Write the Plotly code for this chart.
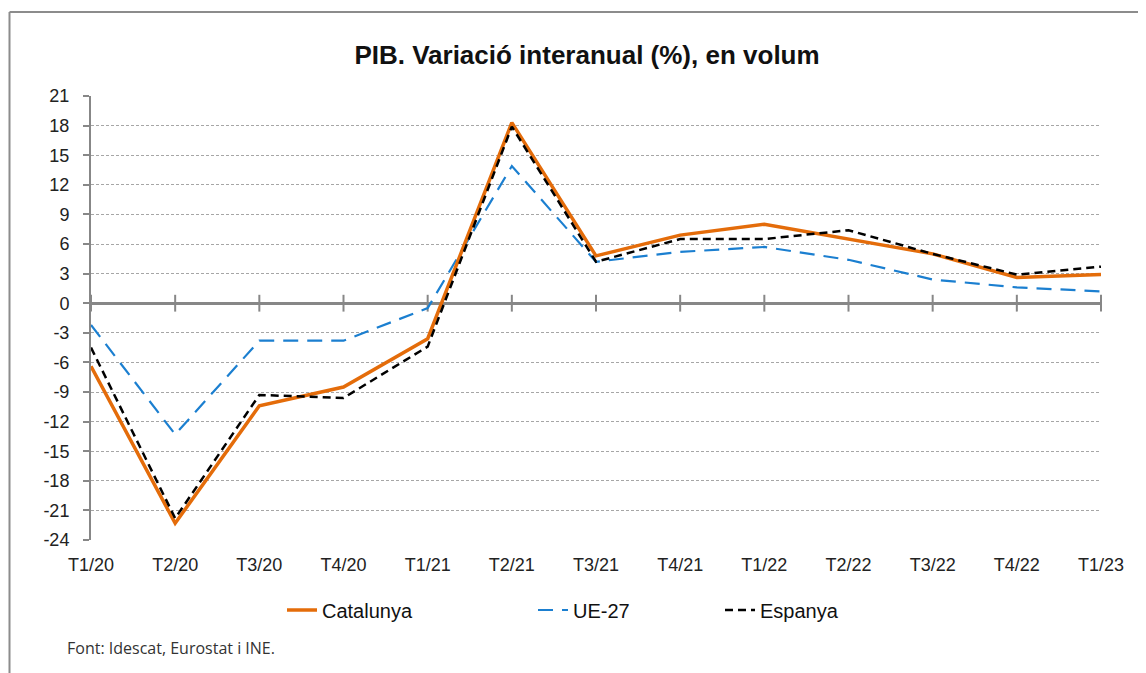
import plotly.graph_objects as go

quarters = ["T1/20", "T2/20", "T3/20", "T4/20", "T1/21", "T2/21", "T3/21",
            "T4/21", "T1/22", "T2/22", "T3/22", "T4/22", "T1/23"]
catalunya = [-6.4, -22.3, -10.4, -8.5, -3.6, 18.3, 4.8, 6.9, 8.0, 6.5, 5.0, 2.6, 2.9]
ue27 = [-2.2, -13.3, -3.8, -3.8, -0.5, 13.9, 4.2, 5.2, 5.7, 4.4, 2.4, 1.6, 1.2]
espanya = [-4.5, -21.8, -9.3, -9.6, -4.4, 17.9, 4.2, 6.5, 6.5, 7.4, 5.0, 2.9, 3.7]
yticks = list(range(-24, 22, 3))
ytick_text = [str(v) for v in yticks]

title_text = "PIB. Variació interanual (%), en volum"
source_text = "Font: Idescat, Eurostat i INE."

AXIS = "#878787"
FONT = "Liberation Sans, Arial, sans-serif"

fig = go.Figure()

# category tick marks crossing the zero axis
fig.add_trace(go.Scatter(
    x=quarters, y=[0] * len(quarters), mode="markers",
    marker=dict(symbol="line-ns", size=12, line=dict(width=2, color=AXIS)),
    showlegend=False, hoverinfo="skip", cliponaxis=False))

fig.add_trace(go.Scatter(
    x=quarters, y=ue27, name="UE-27", mode="lines",
    line=dict(color="#1B7FD0", width=2.2, dash="15px,9px"),
    legend="legend2"))
fig.add_trace(go.Scatter(
    x=quarters, y=catalunya, name="Catalunya", mode="lines",
    line=dict(color="#E46C0A", width=3.5),
    legend="legend"))
fig.add_trace(go.Scatter(
    x=quarters, y=espanya, name="Espanya", mode="lines",
    line=dict(color="#000000", width=2.5, dash="8px,5px"),
    legend="legend3"))

OFF = 8  # page body offset
W, H = 1146, 673
L, R, T, B = 83, 53, 88, 141
pw, ph = W - L - R, H - T - B

def px_x(p):
    return (p - OFF - L) / pw

def px_y(p):
    return (H - B - (p - OFF)) / ph

legend_common = dict(orientation="h", yanchor="middle", xanchor="left",
                     bgcolor="rgba(0,0,0,0)", font=dict(family=FONT, size=20, color="#111"))

fig.update_layout(
    width=W, height=H, autosize=False,
    margin=dict(l=L, r=R, t=T, b=B),
    paper_bgcolor="white", plot_bgcolor="white",
    font=dict(family=FONT, color="#222"),
    title=dict(text="<b>" + title_text + "</b>", x=(587 - OFF) / W, xanchor="center",
               xref="container", y=1 - (55 - OFF) / H, yanchor="middle", yref="container",
               font=dict(family=FONT, size=26, color="#111")),
    xaxis=dict(type="category", categoryorder="array", categoryarray=quarters,
               range=[0, len(quarters) - 1], showgrid=False, showline=False,
               zeroline=False, ticks="", tickfont=dict(size=18, color="#222"),
               ticklabelstandoff=12, fixedrange=True),
    yaxis=dict(range=[-24, 21], tickvals=yticks, ticktext=ytick_text,
               showgrid=True, gridcolor="#a6a6a6", gridwidth=1, griddash="3px,2px",
               showline=True, linecolor=AXIS, linewidth=2,
               ticks="outside", ticklen=6, tickwidth=2, tickcolor=AXIS,
               ticklabelstandoff=10, tickfont=dict(size=18, color="#222"),
               zeroline=True, zerolinecolor=AXIS, zerolinewidth=2.5, fixedrange=True),
    legend=dict(x=px_x(282), y=px_y(610), **legend_common),
    legend2=dict(x=px_x(533), y=px_y(610), **legend_common),
    legend3=dict(x=px_x(720), y=px_y(610), **legend_common),
    showlegend=True,
)

# outer frame (left and top edges)
fx = 9.5 - OFF - L
fy = T - (12 - OFF)
fig.add_shape(type="line", xref="paper", yref="paper", xsizemode="pixel", ysizemode="pixel",
              xanchor=0, yanchor=1, x0=fx, x1=fx, y0=fy, y1=T - H - 5,
              line=dict(color="#8c8c8c", width=2))
fig.add_shape(type="line", xref="paper", yref="paper", xsizemode="pixel", ysizemode="pixel",
              xanchor=0, yanchor=1, x0=fx, x1=W - L + 5, y0=fy, y1=fy,
              line=dict(color="#8c8c8c", width=2))

fig.add_annotation(text=source_text, xref="paper", yref="paper",
                   x=px_x(65), y=px_y(648), xanchor="left", yanchor="middle",
                   showarrow=False, font=dict(family="Open Sans, sans-serif", size=16, color="#333"))

fig.write_html("out.html")
